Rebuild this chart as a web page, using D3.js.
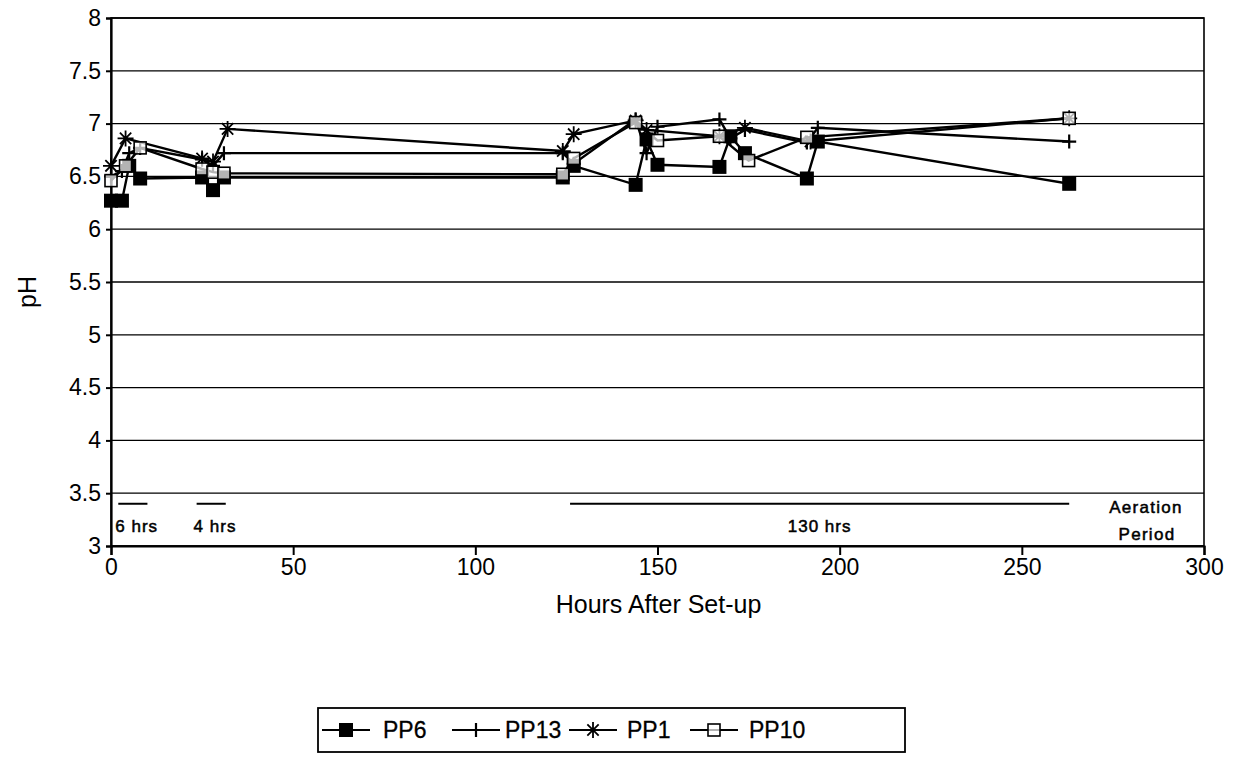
<!DOCTYPE html>
<html>
<head>
<meta charset="utf-8">
<script src="https://cdn.jsdelivr.net/npm/d3@7"></script>
<style>
  html, body { margin: 0; padding: 0; background: #fff; }
  svg { display: block; font-family: "Liberation Sans", Arial, Helvetica, sans-serif; }
</style>
</head>
<body>
<svg id="chart" width="1238" height="760"></svg>
<script>
// pH readings (hours after set-up, pH) for each of the four test cells
const hoursPP6  = [0, 3, 5, 8, 25, 28, 31, 124, 127, 144, 147, 150, 167, 170, 174, 191, 194, 263];
const phPP6     = [6.27, 6.27, 6.6, 6.48, 6.49, 6.37, 6.49, 6.49, 6.6, 6.42, 6.85, 6.61, 6.59, 6.88, 6.72, 6.48, 6.83, 6.43];

const hoursPP13 = [0, 3, 5, 8, 25, 28, 31, 124, 127, 144, 147, 150, 167, 170, 174, 191, 194, 263];
const phPP13    = [6.5, 6.55, 6.72, 6.77, 6.66, 6.6, 6.72, 6.72, 6.62, 7.04, 6.72, 6.97, 7.04, 6.86, 6.94, 6.82, 6.96, 6.83];

const hoursPP1  = [0, 4, 25, 28, 32, 124, 127, 144, 147, 167, 174, 192, 263];
const phPP1     = [6.6, 6.86, 6.67, 6.64, 6.95, 6.74, 6.9, 7.03, 6.94, 6.88, 6.96, 6.83, 7.05];

const hoursPP10 = [0, 4, 8, 25, 28, 31, 124, 127, 144, 150, 167, 175, 191, 263];
const phPP10    = [6.46, 6.6, 6.77, 6.57, 6.54, 6.53, 6.52, 6.67, 7.01, 6.84, 6.88, 6.65, 6.87, 7.05];

const seriesNames = ["PP6", "PP13", "PP1", "PP10"];
const markerKinds = ["filledSquare", "plus", "star", "openSquare"];

const xTicks = [0, 50, 100, 150, 200, 250, 300];
const yTicks = [3, 3.5, 4, 4.5, 5, 5.5, 6, 6.5, 7, 7.5, 8];

// bracket annotations along the bottom of the plot: [start hour, end hour, label]
const periodStart = [2, 23.5, 126];
const periodEnd   = [10, 31.5, 263];
const periodLabel = ["6 hrs", "4 hrs", "130 hrs"];

const series = [
  { name: seriesNames[0], kind: markerKinds[0], x: hoursPP6,  y: phPP6 },
  { name: seriesNames[1], kind: markerKinds[1], x: hoursPP13, y: phPP13 },
  { name: seriesNames[2], kind: markerKinds[2], x: hoursPP1,  y: phPP1 },
  { name: seriesNames[3], kind: markerKinds[3], x: hoursPP10, y: phPP10 }
];

const svg = d3.select("#chart");
const plot = { left: 111, right: 1204, top: 18, bottom: 546 };

const x = d3.scaleLinear().domain([0, 300]).range([plot.left, plot.right]);
const y = d3.scaleLinear().domain([3, 8]).range([plot.bottom, plot.top]);

// horizontal gridlines
svg.append("g")
  .selectAll("line")
  .data(yTicks)
  .join("line")
  .attr("x1", plot.left).attr("x2", plot.right)
  .attr("y1", d => y(d)).attr("y2", d => y(d))
  .attr("stroke", "#000").attr("stroke-width", 1.3);

// frame
svg.append("rect")
  .attr("x", plot.left).attr("y", plot.top)
  .attr("width", plot.right - plot.left).attr("height", plot.bottom - plot.top)
  .attr("fill", "none").attr("stroke", "#000").attr("stroke-width", 1.6);

// axes
const xAxis = svg.append("g")
  .attr("transform", `translate(0,${plot.bottom})`)
  .call(d3.axisBottom(x).tickValues(xTicks).tickSize(9).tickPadding(4).tickFormat(d3.format("d")));
const yAxis = svg.append("g")
  .attr("transform", `translate(${plot.left},0)`)
  .call(d3.axisLeft(y).tickValues(yTicks).tickSize(5).tickPadding(5).tickFormat(d => String(d)));

[xAxis, yAxis].forEach(g => {
  g.select(".domain").attr("stroke", "#000").attr("stroke-width", 2.2);
  g.selectAll(".tick line").attr("stroke", "#000").attr("stroke-width", 2);
  g.selectAll(".tick text").attr("fill", "#000").attr("font-size", 23)
    .attr("font-family", "'Liberation Sans', Arial, sans-serif");
});

// axis titles
svg.append("text")
  .attr("x", (plot.left + plot.right) / 2 + 1).attr("y", 613)
  .attr("text-anchor", "middle").attr("font-size", 25).text("Hours After Set-up");
svg.append("text")
  .attr("transform", `translate(36,${(plot.top + plot.bottom) / 2 + 10}) rotate(-90)`)
  .attr("text-anchor", "middle").attr("font-size", 25).text("pH");

// period brackets
const annot = svg.append("g");
annot.selectAll("line")
  .data(periodStart.map((s, i) => ({ s, e: periodEnd[i] })))
  .join("line")
  .attr("x1", d => x(d.s)).attr("x2", d => x(d.e))
  .attr("y1", y(3.4)).attr("y2", y(3.4))
  .attr("stroke", "#000").attr("stroke-width", 2);
annot.selectAll("text")
  .data(periodStart.map((s, i) => ({ s, e: periodEnd[i], label: periodLabel[i] })))
  .join("text")
  .attr("x", (d, i) => i < 2 ? x(d.s) - 3 : (x(d.s) + x(d.e)) / 2)
  .attr("y", 532)
  .attr("text-anchor", (d, i) => i < 2 ? "start" : "middle")
  .attr("font-size", 17).attr("letter-spacing", 1)
  .attr("stroke", "#000").attr("stroke-width", 0.5)
  .text(d => d.label);
svg.append("text").attr("x", 1146).attr("y", 513).attr("text-anchor", "middle")
  .attr("font-size", 17).attr("letter-spacing", 1.3)
  .attr("stroke", "#000").attr("stroke-width", 0.5).text("Aeration");
svg.append("text").attr("x", 1147).attr("y", 540).attr("text-anchor", "middle")
  .attr("font-size", 17).attr("letter-spacing", 1.3)
  .attr("stroke", "#000").attr("stroke-width", 0.5).text("Period");

// marker drawing
function drawMarker(g, kind, cx, cy) {
  const h = 7;
  if (kind === "filledSquare") {
    g.append("rect").attr("x", cx - h).attr("y", cy - h).attr("width", 2 * h).attr("height", 2 * h)
      .attr("fill", "#000");
  } else if (kind === "openSquare") {
    g.append("rect").attr("x", cx - h + 1).attr("y", cy - h + 1).attr("width", 2 * h - 2).attr("height", 2 * h - 2)
      .attr("fill", "#fff").attr("fill-opacity", 0.7).attr("stroke", "#000").attr("stroke-width", 1.6);
  } else if (kind === "plus") {
    g.append("path").attr("d", `M${cx - h},${cy}H${cx + h}M${cx},${cy - h}V${cy + h}`)
      .attr("stroke", "#000").attr("stroke-width", 2.2);
  } else if (kind === "star") {
    const r = 8, r2 = r * 0.7071;
    g.append("path")
      .attr("d", `M${cx - r},${cy}H${cx + r}M${cx},${cy - r}V${cy + r}` +
                 `M${cx - r2},${cy - r2}L${cx + r2},${cy + r2}M${cx - r2},${cy + r2}L${cx + r2},${cy - r2}`)
      .attr("stroke", "#000").attr("stroke-width", 1.8);
  }
}

const line = d3.line().x(d => x(d[0])).y(d => y(d[1]));

series.forEach(s => {
  const pts = s.x.map((v, i) => [v, s.y[i]]);
  const g = svg.append("g").attr("class", "series-" + s.name);
  g.append("path").datum(pts).attr("d", line)
    .attr("fill", "none").attr("stroke", "#000").attr("stroke-width", 2.4);
  pts.forEach(p => drawMarker(g, s.kind, x(p[0]), y(p[1])));
});

// legend
const legend = svg.append("g");
legend.append("rect").attr("x", 318).attr("y", 708).attr("width", 587).attr("height", 44)
  .attr("fill", "#fff").attr("stroke", "#000").attr("stroke-width", 1.8);
const legendLineX = [322, 452, 569, 690];
const legendTextX = [383, 505, 627, 749];
series.forEach((s, i) => {
  const g = legend.append("g");
  const x0 = legendLineX[i], x1 = x0 + 48, cy = 730;
  g.append("line").attr("x1", x0).attr("x2", x1).attr("y1", cy).attr("y2", cy)
    .attr("stroke", "#000").attr("stroke-width", 2);
  drawMarker(g, s.kind, (x0 + x1) / 2, cy);
  g.append("text").attr("x", legendTextX[i]).attr("y", cy + 8)
    .attr("font-size", 23).attr("stroke", "#000").attr("stroke-width", 0.3).text(s.name);
});
</script>
</body>
</html>
